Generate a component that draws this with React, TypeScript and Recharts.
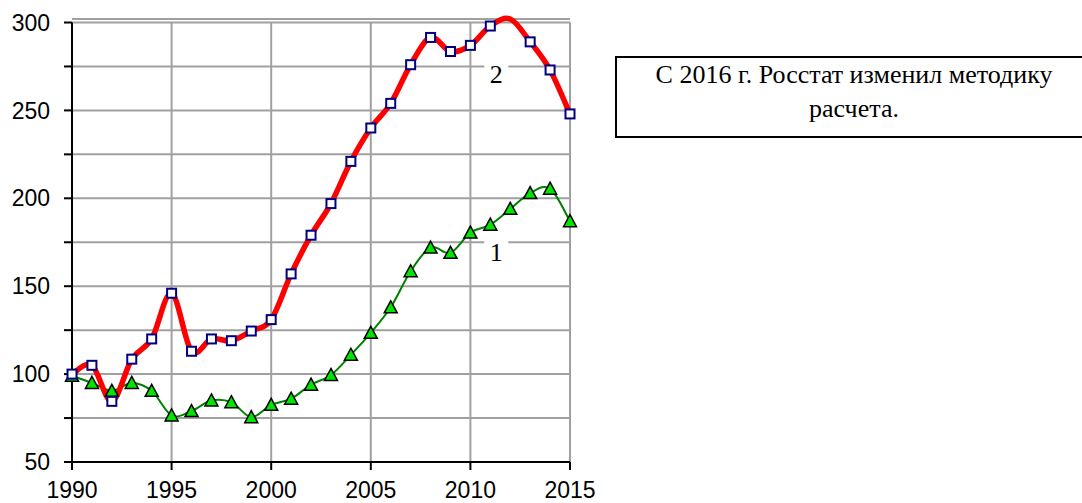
import React from 'react';
import { LineChart, Line, XAxis, YAxis, CartesianGrid, ReferenceLine, ReferenceDot } from 'recharts';

const years = [1990, 1991, 1992, 1993, 1994, 1995, 1996, 1997, 1998, 1999, 2000, 2001, 2002,
  2003, 2004, 2005, 2006, 2007, 2008, 2009, 2010, 2011, 2012, 2013, 2014, 2015];

// кривая 2 (красная, квадраты)
const series2 = [100, 105, 84.5, 108.5, 120, 146, 113, 120, 119, 124.5, 131, 157, 179,
  197, 221, 240, 254, 276, 291.5, 283.5, 287, 298, 302, 289, 273, 248];

// кривая 1 (зелёная, треугольники)
const series1 = [99, 95, 90.5, 95, 90.5, 76.5, 79, 85, 84, 75.5, 82.5, 86, 94,
  99.5, 111, 123.5, 138, 158.5, 172, 169, 180.5, 185, 194, 203, 205.5, 187];

const xTicks = [1990, 1995, 2000, 2005, 2010, 2015];
const yTicks = [50, 75, 100, 125, 150, 175, 200, 225, 250, 275, 300];

const curveLabels = [
  { text: '2', x: 2011.3, y: 270.5 },
  { text: '1', x: 2011.3, y: 169.2 },
];

const note = ['С 2016 г. Росстат изменил методику', 'расчета.'];

const data = years.map((year, i) => ({ year, s1: series1[i], s2: series2[i] }));

// сглаживание как в Excel (Catmull-Rom)
const smoothCurve: any = (context: any) => {
  let pts: number[][] = [];
  return {
    areaStart() {},
    areaEnd() {},
    lineStart() { pts = []; },
    point(x: number, y: number) { pts.push([+x, +y]); },
    lineEnd() {
      const n = pts.length;
      if (!n) return;
      context.moveTo(pts[0][0], pts[0][1]);
      for (let i = 0; i < n - 1; i++) {
        const p0 = pts[i - 1] || pts[i];
        const p1 = pts[i];
        const p2 = pts[i + 1];
        const p3 = pts[i + 2] || p2;
        const t = 1 / 6;
        context.bezierCurveTo(
          p1[0] + (p2[0] - p0[0]) * t, p1[1] + (p2[1] - p0[1]) * t,
          p2[0] - (p3[0] - p1[0]) * t, p2[1] - (p3[1] - p1[1]) * t,
          p2[0], p2[1]
        );
      }
    },
  };
};

const SquareDot = (props: any) => {
  const { cx, cy, value, index } = props;
  if (value > 300) return <g key={`sq-${index}`} />;
  return (
    <rect key={`sq-${index}`} x={cx - 4.5} y={cy - 4.5} width={9} height={9}
      fill="#fff" stroke="#000080" strokeWidth={2} />
  );
};

const TriangleDot = (props: any) => {
  const { cx, cy, index } = props;
  return (
    <path key={`tr-${index}`} d={`M${cx},${cy - 6.5}L${cx + 6.5},${cy + 5.5}L${cx - 6.5},${cy + 5.5}Z`}
      fill="#00e600" stroke="#000" strokeWidth={1.5} strokeLinejoin="miter" />
  );
};

const tickStyle = { fontSize: 23, fill: '#000', fontFamily: '"Liberation Sans", Arial, sans-serif' };

export default function App() {
  return (
    <div style={{ position: 'absolute', left: 0, top: 0, width: 1082, height: 503, overflow: 'hidden', background: '#fff' }}>
      <LineChart width={1082} height={503} data={data} margin={{ top: 19, right: 512, bottom: 0, left: 0 }}>
        <CartesianGrid vertical={false} stroke="#a0a0a0" strokeWidth={2} />
        {xTicks.slice(1).map((x) => (
          <ReferenceLine key={x} segment={[{ x, y: 50 }, { x, y: 300 }]} stroke="#a0a0a0" strokeWidth={2} />
        ))}
        <XAxis dataKey="year" type="number" domain={[1990, 2015]} ticks={xTicks} interval={0}
          height={41} tick={tickStyle} tickSize={8} tickMargin={12}
          axisLine={{ stroke: '#000', strokeWidth: 2 }} tickLine={{ stroke: '#000', strokeWidth: 2 }} />
        <YAxis type="number" domain={[50, 300]} ticks={yTicks} interval={0} width={72}
          tick={tickStyle} tickSize={8} tickMargin={14} axisLine={false}
          tickLine={{ stroke: '#000', strokeWidth: 2 }}
          tickFormatter={(v: number) => (v % 50 === 0 ? String(v) : '')} />
        <ReferenceLine segment={[{ x: 1990, y: 50 }, { x: 1990, y: 300 }]} stroke="#000" strokeWidth={2} />
        <Line dataKey="s1" type={smoothCurve} stroke="#008000" strokeWidth={2}
          dot={TriangleDot} activeDot={false} isAnimationActive={false} />
        <Line dataKey="s2" type={smoothCurve} stroke="#ff0000" strokeWidth={5.5}
          dot={SquareDot} activeDot={false} isAnimationActive={false} />
        {curveLabels.map((l) => (
          <ReferenceDot key={l.text} x={l.x} y={l.y} shape={(p: any) => (
            <g>
              <rect x={p.cx - 12} y={p.cy - 12} width={24} height={24} fill="#fff" />
              <text x={p.cx} y={p.cy + 9} textAnchor="middle" fontSize={26}
                fontFamily='"Liberation Serif", "Times New Roman", serif' fill="#000">{l.text}</text>
            </g>
          )} />
        ))}
      </LineChart>
      <div style={{
        position: 'absolute', left: 615, top: 56, width: 474, height: 78,
        border: '2px solid #000', background: '#fff', textAlign: 'center',
        fontFamily: '"Liberation Serif", "Times New Roman", serif', fontSize: 26, lineHeight: '34px',
      }}>
        {note.map((line) => <div key={line}>{line}</div>)}
      </div>
    </div>
  );
}
